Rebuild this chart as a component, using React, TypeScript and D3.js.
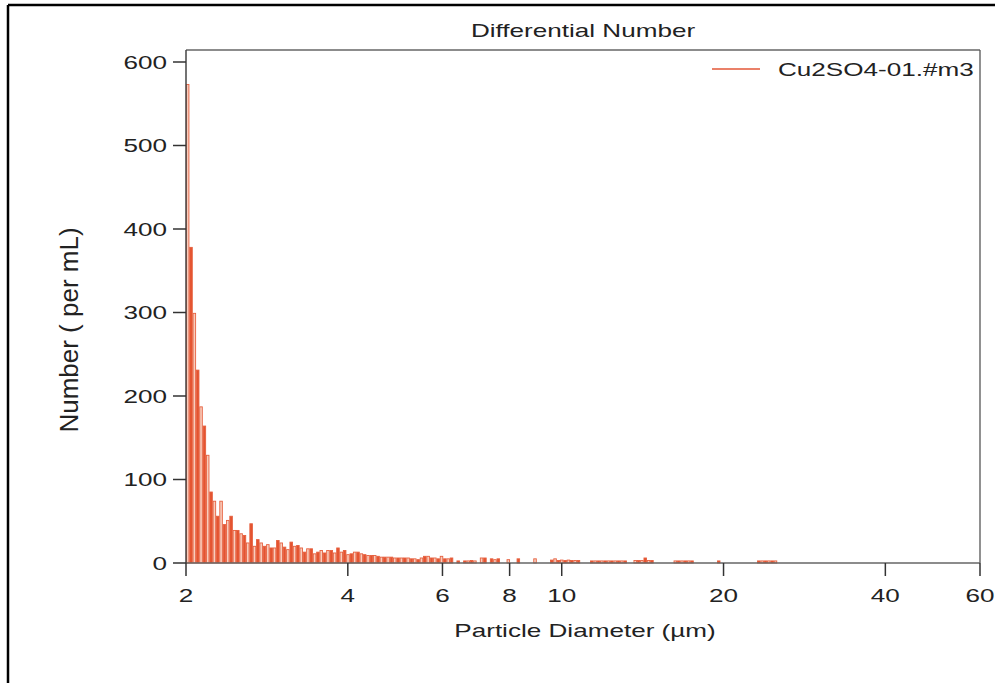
import React from "react";
import * as d3 from "d3";

// ---- data ----
const chartTitle = "Differential Number";
const seriesName = "Cu2SO4-01.#m3";
const xLabel = "Particle Diameter (µm)";
const yLabel = "Number ( per mL)";
const xTicks = [2, 4, 6, 8, 10, 20, 40, 60];
const yTicks = [0, 100, 200, 300, 400, 500, 600];

// instrument log-spaced size bins starting at 2 µm
const binStart = 2;
const binRatio = 1.01441;

// counts per bin (per mL), consecutive bins from 2 µm
const countsNear2 = [573, 378, 299, 231, 187, 164, 129, 85, 74, 56, 74, 46, 51, 56];
const countsTo3 = [39, 39, 35, 33, 24, 47, 20, 28, 24, 20, 22, 18, 18, 27, 24, 19, 16, 25, 20];
const countsTo5 = [
  21, 18, 13, 17, 17, 11, 13, 15, 12, 15,
  15, 12, 18, 13, 15, 10, 11, 13, 13, 11,
  10, 9, 9, 9, 8, 7, 7, 7, 7, 6,
  6, 6, 6, 6, 5, 5, 4, 6, 8, 8,
  6, 6,
];
const countsTail = [
  5, 8, 5, 5, 6,
  0, 2.5, 0,
  2.5, 2.5, 3, 2.5,
  0,
  6, 6,
  0,
  5, 4, 5,
  0, 0,
  4,
  0, 0,
  5,
  0, 0, 0, 0,
  5,
  0, 0, 0, 0,
  3.5, 5, 3, 3.5, 3, 3.5, 3, 3, 3,
  0, 0, 0,
  2.5, 2.5, 2.5, 2.5, 2.5, 2.5, 2.5, 2.5, 2.5, 2.5, 2.5,
  0, 0,
  3, 3, 3, 6, 3, 3,
  0, 0, 0, 0, 0, 0,
  2.5, 2.5, 2.5, 2.5, 2.5, 2.5,
  0, 0, 0, 0, 0, 0, 0,
  2.5,
  0, 0, 0, 0, 0, 0, 0, 0, 0, 0, 0,
  2.5, 2.5, 2.5, 2.5, 2.5, 2.5,
];
const binCounts = [...countsNear2, ...countsTo3, ...countsTo5, ...countsTail];

// ---- layout ----
const W = 997;
const H = 683;
const left = 186;
const right = 980;
const top = 50;
const bottom = 563;
const SX = 1.45; // horizontal stretch of the text in the reference
const FONT = "'Liberation Sans', Arial, Helvetica, sans-serif";

function SText(props: {
  x: number;
  y: number;
  anchor?: string;
  size?: number;
  children: React.ReactNode;
}) {
  const { x, y, anchor = "start", size = 18, children } = props;
  return (
    <text
      transform={`translate(${x},${y}) scale(${SX},1)`}
      textAnchor={anchor}
      fontSize={size}
      fontFamily={FONT}
      fill="#222"
    >
      {children}
    </text>
  );
}

export default function App() {
  const x = d3.scaleLog().domain([2, 60]).range([left, right]);
  const y = d3.scaleLinear().domain([0, 600]).range([bottom, 62]);

  const bars = binCounts.map((v, i) => {
    const lo = binStart * Math.pow(binRatio, i);
    const hi = binStart * Math.pow(binRatio, i + 1);
    return { lo, hi, v, i };
  });

  return (
    <div style={{ position: "absolute", left: 0, top: 0 }}>
      <svg width={W} height={H} style={{ display: "block", background: "#fff" }}>
        {/* outer frame */}
        <line x1={8} y1={5} x2={995} y2={5} stroke="#000" strokeWidth={2.5} />
        <line x1={8} y1={5} x2={8} y2={H} stroke="#000" strokeWidth={2.5} />

        {/* bars */}
        <g>
          {bars
            .filter((b) => b.v > 0)
            .map((b) => {
              const x0 = x(b.lo);
              const x1 = x(b.hi);
              const yt = y(b.v);
              const dark = b.i % 2 === 1;
              return (
                <rect
                  key={b.i}
                  x={x0 + 0.4}
                  y={yt}
                  width={Math.max(0.8, x1 - x0 - 0.8)}
                  height={bottom - yt}
                  fill={dark ? "#e4532f" : "#f8cdbd"}
                  stroke="#e6603f"
                  strokeWidth={0.9}
                />
              );
            })}
        </g>

        {/* plot frame */}
        <line x1={left} y1={top} x2={right} y2={top} stroke="#666" strokeWidth={1.3} />
        <line x1={right} y1={top} x2={right} y2={bottom} stroke="#555" strokeWidth={1.3} />
        <line x1={left} y1={bottom} x2={right} y2={bottom} stroke="#666" strokeWidth={1.5} />
        <line x1={left} y1={top} x2={left} y2={bottom} stroke="#444" strokeWidth={1.5} />

        {/* y ticks */}
        {yTicks.map((t) => (
          <g key={"y" + t}>
            <line x1={left - 13} x2={left} y1={y(t)} y2={y(t)} stroke="#333" strokeWidth={1.5} />
            <SText x={167} y={y(t) + 6.5} anchor="end">
              {t}
            </SText>
          </g>
        ))}

        {/* x ticks */}
        {xTicks.map((t) => (
          <g key={"x" + t}>
            <line x1={x(t)} x2={x(t)} y1={bottom} y2={bottom + 13} stroke="#333" strokeWidth={1.5} />
            <SText x={x(t)} y={602} anchor="middle">
              {t}
            </SText>
          </g>
        ))}

        {/* titles */}
        <SText x={(left + right) / 2} y={36.5} anchor="middle">
          {chartTitle}
        </SText>
        <SText x={585} y={637} anchor="middle">
          {xLabel}
        </SText>
        <text
          transform={`translate(78,330) rotate(-90)`}
          textAnchor="middle"
          fontSize={26}
          fontFamily={FONT}
          fill="#222"
        >
          {yLabel}
        </text>

        {/* legend */}
        <line x1={712} x2={760} y1={69} y2={69} stroke="#e35737" strokeWidth={1.5} />
        <SText x={778} y={75.5}>
          {seriesName}
        </SText>
      </svg>
    </div>
  );
}
